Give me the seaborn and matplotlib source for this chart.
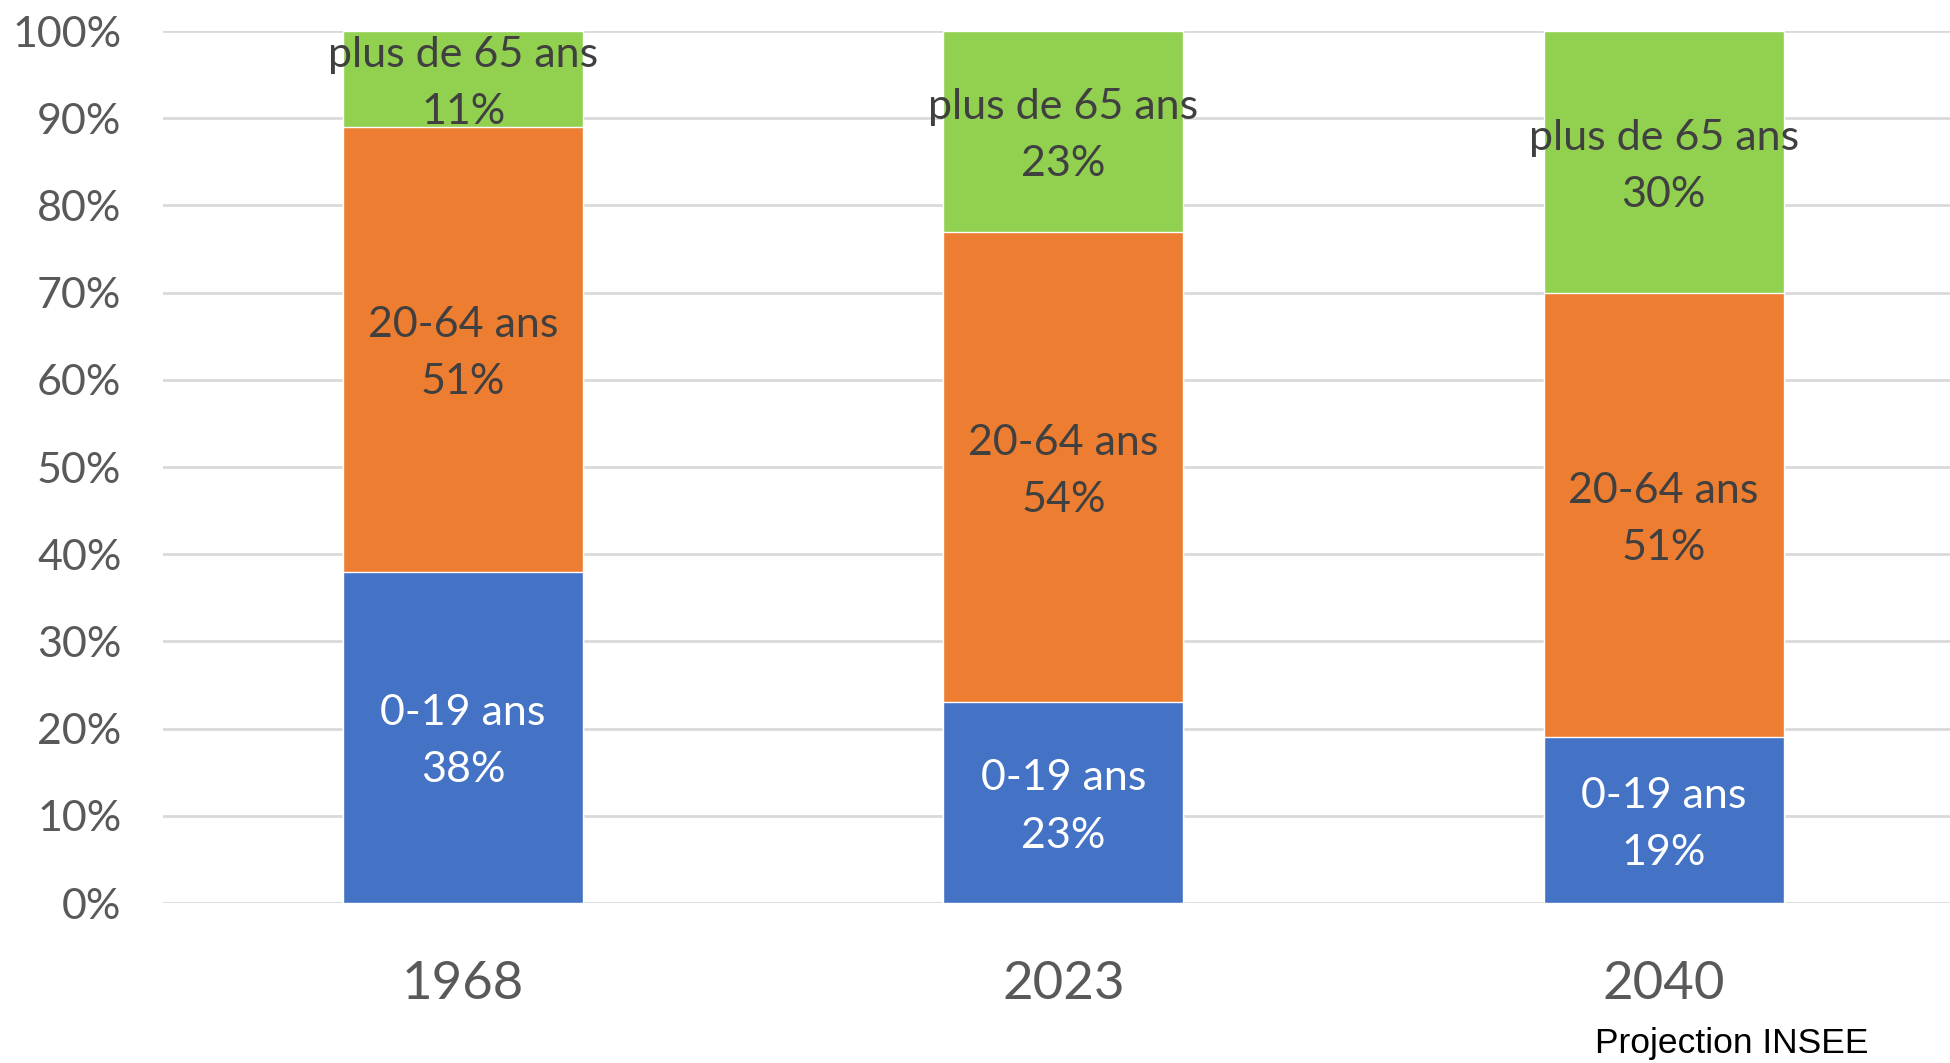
import pandas as pd
import matplotlib.pyplot as plt
import seaborn as sns

years = ["1968", "2023", "2040"]
jeunes = [38, 23, 19]      # 0-19 ans
actifs = [51, 54, 51]      # 20-64 ans
seniors = [11, 23, 30]     # plus de 65 ans
groups = ["0-19 ans", "20-64 ans", "plus de 65 ans"]
colors = ["#4472C4", "#ED7D31", "#92D050"]
label_colors = ["white", "#404040", "#404040"]

df = pd.DataFrame({"annee": years, groups[0]: jeunes, groups[1]: actifs, groups[2]: seniors})
cum = df[groups].cumsum(axis=1)

sns.set_style("white")
plt.rcParams["font.family"] = ["Lato", "DejaVu Sans"]

fig = plt.figure(figsize=(19.5, 10.63), dpi=100)
ax = fig.add_axes([0.0836, 0.1505, 0.9164, 0.8203])

# stacked bars: draw the cumulative totals from top to bottom
for g, c in zip(groups[::-1], colors[::-1]):
    sns.barplot(x=df["annee"], y=cum[g], color=c, width=0.4, ax=ax,
                saturation=1, order=years, zorder=2)

# labels in the middle of each segment
for i, yr in enumerate(years):
    base = 0
    for g, lc in zip(groups, label_colors):
        v = df.loc[i, g]
        ax.text(i, base + v / 2 - 0.5, f"{g}\n{v}%", ha="center", va="center",
                fontsize=31, color=lc, linespacing=1.62, zorder=3)
        base += v

ax.set_ylim(0, 100)
ax.set_xlim(-0.5, 2.477)
ax.set_yticks(range(0, 101, 10))
ax.set_yticklabels([f"{t}%" for t in range(0, 101, 10)])
ax.yaxis.grid(True, color="#D9D9D9", linewidth=2, zorder=0)
ax.set_axisbelow(True)
ax.tick_params(axis="y", labelsize=31, labelcolor="#595959", length=0, pad=30)
ax.tick_params(axis="x", labelsize=38, labelcolor="#595959", length=0, pad=42)
ax.set_xlabel("")
ax.set_ylabel("")
for s in ax.spines.values():
    s.set_visible(False)

fig.text(0.888, 0.009, "Projection INSEE", ha="center", va="baseline",
         fontsize=25.5, family="Liberation Sans", color="black")

fig.savefig("out.png", dpi=100)
